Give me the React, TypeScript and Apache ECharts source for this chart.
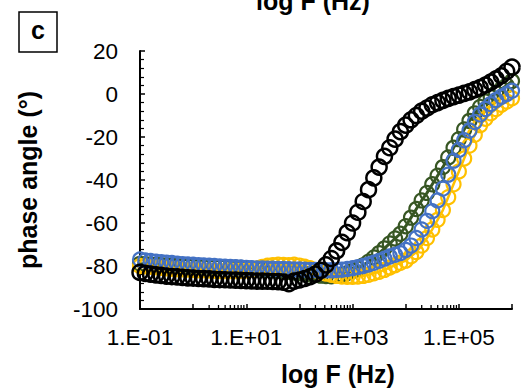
import React, { useEffect, useRef } from 'react';
import * as echarts from 'echarts';

// frequency (Hz), 10 points per decade from 0.1 Hz to 1 MHz
const frequencies = [
  0.1, 0.126, 0.158, 0.2, 0.251, 0.316, 0.398, 0.501, 0.631, 0.794,
  1, 1.26, 1.58, 2, 2.51, 3.16, 3.98, 5.01, 6.31, 7.94,
  10, 12.6, 15.8, 20, 25.1, 31.6, 39.8, 50.1, 63.1, 79.4,
  100, 126, 158, 200, 251, 316, 398, 501, 631, 794,
  1000, 1259, 1585, 1995, 2512, 3162, 3981, 5012, 6310, 7943,
  10000, 12589, 15849, 19953, 25119, 31623, 39811, 50119, 63096, 79433,
  100000, 125893, 158489, 199526, 251189, 316228, 398107, 501187, 630957, 794328,
  1000000,
];

const phaseBlack = [
  -83, -83.4, -83.8, -84.1, -84.4, -84.7, -84.9, -85.1, -85.3, -85.5,
  -85.6, -85.8, -85.9, -86, -86.2, -86.3, -86.4, -86.5, -86.6, -86.7,
  -86.8, -86.9, -87, -87, -87.1, -87.2, -87.3, -87.5, -88.2, -87,
  -86.5, -85.8, -85, -83.8, -82, -79.5, -76.5, -73, -69, -64.5,
  -60, -55, -50, -44.5, -39, -34, -29, -25, -21, -17.5,
  -14.5, -12, -10, -8, -6.5, -5, -4, -3, -2, -1.2,
  -0.5, 0.3, 1, 2, 3, 4.2, 5.5, 7, 8.5, 10.5,
  12.5,
];

const phaseGreen = [
  -79, -79.15, -79.3, -79.45, -79.6, -79.75, -79.9, -80, -80.1, -80.15,
  -80.2, -80.3, -80.35, -80.4, -80.5, -80.55, -80.6, -80.7, -80.8, -80.9,
  -81, -81.2, -81.4, -81.6, -81.8, -82, -82.2, -82.5, -82.7, -83,
  -83.3, -83.6, -83.9, -84.2, -84.5, -84.7, -84.8, -84.6, -84, -83.3,
  -82.3, -81.1, -79.7, -78, -76, -74, -71.8, -69.5, -67.2, -65,
  -61.5, -57.5, -53.5, -49.5, -46, -42, -38, -34, -29.5, -25,
  -21, -16.5, -12.5, -9, -6, -3.5, -1.5, 0.5, 2.3, 4,
  6,
];

const phaseBlue = [
  -77, -77.4, -77.7, -78, -78.2, -78.4, -78.6, -78.9, -79.1, -79.3,
  -79.4, -79.6, -79.7, -79.85, -80, -80.15, -80.3, -80.45, -80.6, -80.7,
  -80.85, -81, -81.1, -81.15, -81.2, -81.3, -81.35, -81.4, -81.5, -81.55,
  -81.6, -81.7, -81.8, -81.85, -81.9, -82, -82, -81.9, -81.7, -81.4,
  -81, -80.5, -80, -79.3, -78.5, -77.6, -76.6, -75.6, -74.8, -74,
  -72.5, -70.5, -67, -63, -59, -54.5, -49.5, -44, -37.5, -31,
  -26, -21.5, -17, -13, -9.5, -7, -4.7, -2.8, -1.3, 0,
  1.5,
];

const phaseYellow = [
  -80, -80.2, -80.4, -80.6, -80.9, -81.1, -81.3, -81.5, -81.6, -81.7,
  -81.9, -82, -82, -82.1, -82.2, -82.3, -82.3, -82.3, -82.3, -82.2,
  -82.1, -81.8, -81.1, -80.4, -79.9, -79.6, -79.4, -79.5, -79.6, -79.4,
  -79.8, -80.3, -81, -82, -82.8, -83.5, -84.1, -84.6, -84.9, -85,
  -85, -84.9, -84.6, -84.1, -83.4, -82.7, -81.8, -80.7, -79.6, -78.5,
  -77.5, -75.5, -73.5, -70.5, -67, -63, -58.5, -54, -48, -42,
  -36, -30, -24, -19, -14.5, -11.5, -9, -7, -5, -3.5,
  -2,
];

// Excel-style minor tick positions on the log axis
const minorTickFreqs = [
  2, 3, 4, 5, 6, 7, 8, 9,
  200, 300, 400, 500, 600, 700, 800, 900,
  20000, 30000, 40000, 50000, 60000, 70000, 80000, 90000,
];

const xTitle = 'log F (Hz)';
const yTitle = 'phase angle (°)';
const panelLabel = 'c';

const FONT = "'Liberation Sans', Arial, Helvetica, sans-serif";

export default function App() {
  const ref = useRef<HTMLDivElement>(null);

  useEffect(() => {
    document.body.style.margin = '0';
    const chart = echarts.init(ref.current as HTMLDivElement, null, { renderer: 'svg' });

    const pts = (vals: number[]) => frequencies.map((f, i) => [f, vals[i]]);
    const mk = (name: string, vals: number[], color: string, size: number, bw: number, lw: number) => ({
      type: 'line',
      name,
      data: pts(vals),
      symbol: 'circle',
      symbolSize: size,
      showSymbol: true,
      showAllSymbol: true,
      clip: false,
      silent: true,
      itemStyle: { color: 'rgba(255,255,255,0)', borderColor: color, borderWidth: bw },
      lineStyle: { color, width: lw > 0 ? lw : 1, opacity: lw > 0 ? 1 : 0 },
      emphasis: { disabled: true },
    });

    const option: any = {
      animation: false,
      grid: { left: 140, right: 14, top: 51, bottom: 81, containLabel: false },
      xAxis: {
        type: 'log',
        logBase: 10,
        min: 0.1,
        max: 1000000,
        splitNumber: 7,
        axisLine: { show: true, onZero: false, lineStyle: { color: '#000', width: 2 } },
        axisTick: { show: true, inside: true, length: 5, interval: 0, lineStyle: { color: '#000', width: 1.5 } },
        minorTick: { show: false },
        splitLine: { show: false },
        axisLabel: {
          interval: 0,
          color: '#000',
          fontSize: 22.5,
          fontFamily: FONT,
          margin: 17,
          formatter: (v: number) => {
            const e = Math.round(Math.log10(v));
            if (e % 2 === 0) return '';
            return '1.E' + (e < 0 ? '-' : '+') + String(Math.abs(e)).padStart(2, '0');
          },
        },
      },
      yAxis: {
        type: 'value',
        min: -100,
        max: 20,
        interval: 20,
        axisLine: { show: true, onZero: false, lineStyle: { color: '#000', width: 2 } },
        axisTick: { show: true, inside: true, length: 5, lineStyle: { color: '#000', width: 1.5 } },
        minorTick: { show: true, splitNumber: 5, length: 4, lineStyle: { color: '#000', width: 1.2 } },
        splitLine: { show: false },
        axisLabel: { color: '#000', fontSize: 22.5, fontFamily: FONT, margin: 22 },
        name: yTitle,
        nameLocation: 'middle',
        nameRotate: 90,
        nameGap: 100,
        nameTextStyle: { color: '#000', fontSize: 25, fontWeight: 'bold', fontFamily: FONT },
      },
      series: [
        mk('green', phaseGreen, '#375623', 14, 2.2, 3),
        mk('yellow', phaseYellow, '#FFC000', 14, 2.2, 2.5),
        mk('blue', phaseBlue, '#4472C4', 14, 2.2, 0),
        mk('black', phaseBlack, '#000000', 15, 2.5, 0),
        {
          type: 'custom',
          silent: true,
          clip: false,
          data: minorTickFreqs.map((f) => [f, -100]),
          renderItem: (_p: any, api: any) => {
            const p = api.coord([api.value(0), api.value(1)]);
            return {
              type: 'line',
              shape: { x1: p[0], y1: p[1], x2: p[0], y2: p[1] - 4 },
              style: { stroke: '#000', lineWidth: 1.3 },
            };
          },
          z: 5,
        },
      ],
      graphic: [
        {
          type: 'rect',
          shape: { x: 19, y: 12, width: 38, height: 40 },
          style: { fill: '#fff', stroke: '#000', lineWidth: 1.5 },
        },
        {
          type: 'text',
          x: 38,
          y: 30,
          style: {
            text: panelLabel,
            fill: '#000',
            font: `bold 25px ${FONT}`,
            align: 'center',
            verticalAlign: 'middle',
          },
        },
        {
          type: 'text',
          x: 313,
          y: 1,
          style: {
            text: xTitle,
            fill: '#000',
            font: `bold 25px ${FONT}`,
            align: 'center',
            verticalAlign: 'middle',
          },
        },
        {
          type: 'text',
          x: 338,
          y: 374,
          style: {
            text: xTitle,
            fill: '#000',
            font: `bold 25px ${FONT}`,
            align: 'center',
            verticalAlign: 'middle',
          },
        },
      ],
    };

    chart.setOption(option);
    return () => {
      chart.dispose();
    };
  }, []);

  return <div ref={ref} style={{ width: 526, height: 390 }} />;
}
